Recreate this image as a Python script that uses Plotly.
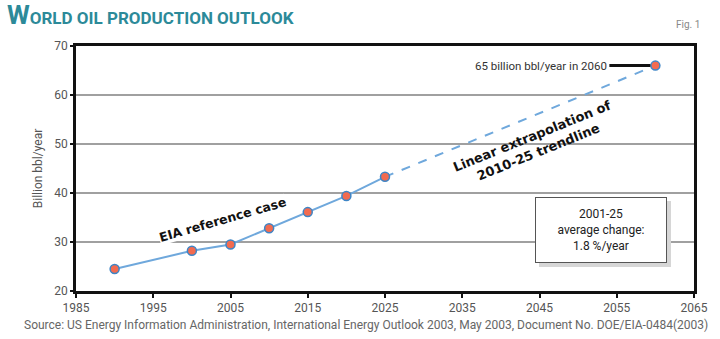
import plotly.graph_objects as go

years = [1990, 2000, 2005, 2010, 2015, 2020, 2025]
production = [24.5, 28.2, 29.5, 32.8, 36.1, 39.4, 43.3]
ext_years = [2025, 2060]
ext_production = [43.3, 66.0]
x_ticks = [1985, 1995, 2005, 2015, 2025, 2035, 2045, 2055, 2065]
y_ticks = [20, 30, 40, 50, 60, 70]

NARROW = "Roboto, sans-serif"
LINE_BLUE = "#6fa8dc"
DOT = "#f26b50"
DOT_EDGE = "#3d85c6"

fig = go.Figure()
fig.add_trace(go.Scatter(x=ext_years, y=ext_production, mode="lines",
                         line=dict(color=LINE_BLUE, width=2, dash="dash"),
                         hoverinfo="skip", showlegend=False))
fig.add_trace(go.Scatter(x=years, y=production, mode="lines+markers",
                         line=dict(color=LINE_BLUE, width=2),
                         marker=dict(color=DOT, size=9, line=dict(color=DOT_EDGE, width=1.5)),
                         showlegend=False))
fig.add_trace(go.Scatter(x=ext_years[1:], y=ext_production[1:], mode="markers",
                         marker=dict(color=DOT, size=9, line=dict(color=DOT_EDGE, width=1.5)),
                         showlegend=False))

fig.update_layout(
    width=720, height=339,
    margin=dict(l=76, r=18, t=46, b=48),
    paper_bgcolor="white", plot_bgcolor="white",
    font=dict(family=NARROW, color="#444", size=12),
    xaxis=dict(range=[1985, 2065], tickvals=x_ticks, showgrid=False, zeroline=False,
               showline=True, linecolor="#111", linewidth=2.5, mirror=True,
               ticks="outside", ticklen=4, tickwidth=2, tickcolor="#111",
               tickfont=dict(size=12, color="#555", family=NARROW)),
    yaxis=dict(range=[20, 70], tickvals=y_ticks, showgrid=True, gridcolor="#a0a0a0", gridwidth=1.5,
               zeroline=False, showline=True, linecolor="#111", linewidth=2.5, mirror=True,
               ticks="outside", ticklen=3, tickwidth=2, tickcolor="#111",
               tickfont=dict(size=12, color="#555", family=NARROW),
               title=dict(text="Billion bbl/year", font=dict(size=12, color="#555", family=NARROW), standoff=10)),
)

# Title
fig.add_annotation(xref="paper", yref="paper", x=0, y=1.0, xanchor="left", yanchor="bottom",
                   xshift=-71, yshift=14, showarrow=False,
                   text="<b><span style='font-size:26px'>W</span>ORLD OIL PRODUCTION OUTLOOK</b>",
                   font=dict(family=NARROW, size=17, color="#2c8a99"))
fig.add_annotation(xref="paper", yref="paper", x=1.0, y=1.0, xanchor="right", yanchor="bottom",
                   yshift=14, xshift=8, showarrow=False, text="Fig. 1",
                   font=dict(family=NARROW, size=10, color="#888"))
# Source
fig.add_annotation(xref="paper", yref="paper", x=0.5, y=0, xanchor="center", yanchor="top",
                   yshift=-25, xshift=-19, showarrow=False,
                   text="Source: US Energy Information Administration, International Energy Outlook 2003, May 2003, Document No. DOE/EIA-0484(2003)",
                   font=dict(family=NARROW, size=12, color="#666"))

# Labels in plot
fig.add_annotation(x=2004.0, y=34.6, text="<b>EIA reference case</b>", showarrow=False,
                   textangle=-16, bgcolor="white", borderpad=0,
                   font=dict(family="DejaVu Sans", size=12.5, color="#111"))
fig.add_annotation(x=2044.5, y=49.9, text="<b>Linear extrapolation of<br>2010-25 trendline</b>",
                   showarrow=False, textangle=-22,
                   font=dict(family="DejaVu Sans", size=13, color="#111"))
fig.add_annotation(x=2060, y=66.0, ax=-46, ay=0, text="65 billion bbl/year in 2060",
                   showarrow=True, arrowhead=0, arrowwidth=3, arrowcolor="#111",
                   xanchor="right", font=dict(family=NARROW, size=11.5, color="#333"), standoff=5)
# Box with shadow
box_text = "2001-25<br>average change:<br>1.8 %/year"
fig.add_annotation(x=2052.9, y=32.5, text=" ", showarrow=False, xshift=4, yshift=-4,
                   width=118, height=52,
                   bgcolor="#d6d6d6", bordercolor="#d6d6d6", borderwidth=1, borderpad=6)
fig.add_annotation(x=2052.9, y=32.5, text=box_text, showarrow=False,
                   width=118, height=52,
                   bgcolor="white", bordercolor="#555", borderwidth=1, borderpad=6,
                   font=dict(family=NARROW, size=12, color="#222"))

fig.write_html("out.html")
